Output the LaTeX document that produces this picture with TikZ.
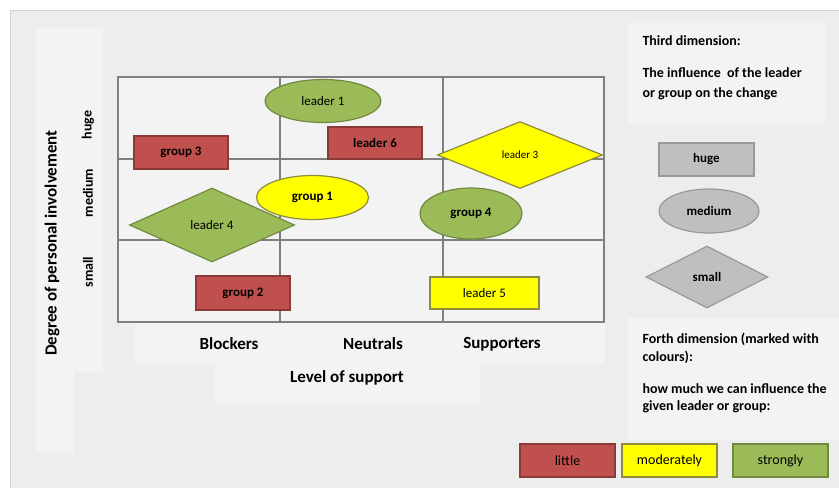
\documentclass[tikz,border=0pt]{standalone}
\usepackage{fontspec}
\setmainfont{Carlito}
\usetikzlibrary{shapes.geometric}
\definecolor{bgc}{HTML}{EDEDED}
\definecolor{panelc}{HTML}{F3F3F3}
\definecolor{gridc}{HTML}{7F7F7F}
\definecolor{redf}{HTML}{C0504D}
\definecolor{redd}{HTML}{8C3A38}
\definecolor{grnf}{HTML}{9BBB59}
\definecolor{grnd}{HTML}{71893F}
\definecolor{yelf}{HTML}{FFFF00}
\definecolor{yeld}{HTML}{8E8A3E}
\definecolor{gryf}{HTML}{BFBFBF}
\definecolor{gryd}{HTML}{999999}
\tikzset{
  fs/.style={font=\fontsize{#1}{#1}\selectfont},
  bigl/.style={font=\fontsize{17}{17}\selectfont\bfseries},
  midl/.style={font=\fontsize{14}{14}\selectfont\bfseries},
  boxr/.style={rectangle,inner sep=0pt,line width=1.2pt},
  ell/.style={ellipse,inner sep=0pt,line width=1.2pt},
  dia/.style={diamond,inner sep=0pt,line width=1.2pt},
  redc/.style={fill=redf,draw=redd},
  grnc/.style={fill=grnf,draw=grnd},
  yelc/.style={fill=yelf,draw=yeld},
  gryc/.style={fill=gryf,draw=gryd},
  lbl/.style={font=\fontsize{13}{13}\selectfont},
}
\begin{document}
\begin{tikzpicture}[x=1pt,y=-1pt]
\useasboundingbox (0,0) rectangle (839,488);
\fill[white] (0,0) rectangle (839,488);
\fill[bgc] (10,10) rectangle (839,488);
\draw[gray!35,line width=1pt] (10,488) -- (10,10) -- (839,10);
% panels
\fill[panelc] (36,28) rectangle (103,372);
\fill[panelc] (36,372) rectangle (74,453);
\fill[panelc] (135,322) rectangle (605,363);
\fill[panelc] (215,363) rectangle (480,403);
\fill[panelc] (628,23) rectangle (825,125);
\fill[panelc] (628,318) rectangle (839,440);
% grid
\fill[panelc] (118,77) rectangle (604,322);
\draw[gridc,line width=1.6pt] (118,77) rectangle (604,322);
\draw[gridc,line width=1.6pt] (280,77) -- (280,322);
\draw[gridc,line width=1.6pt] (443,77) -- (443,322);
\draw[gridc,line width=1.6pt] (118,159) -- (604,159);
\draw[gridc,line width=1.6pt] (118,240) -- (604,240);
% axis labels
\node[bigl,rotate=90] (yax) at (52,243) {Degree of personal involvement};
\node[midl,rotate=90] (yh) at (88,125) {huge};
\node[midl,rotate=90] (ym) at (88,193) {medium};
\node[midl,rotate=90] (ys) at (88,272) {small};
\node[bigl] (xb) at (229,344) {Blockers};
\node[bigl] (xn) at (373,344) {Neutrals};
\node[bigl] (xs) at (502,344) {Supporters};
\node[bigl] (xax) at (347,378) {Level of support};
% grid items
\node[ell,grnc,lbl,minimum width=116,minimum height=43] (l1) at (323,101) {leader 1};
\node[boxr,redc,lbl,minimum width=94,minimum height=32] (l6) at (375,143) {\bfseries leader 6};
\node[boxr,redc,lbl,minimum width=94,minimum height=33] (g3) at (181,152.5) {\bfseries group 3};
\node[ell,yelc,lbl,minimum width=112,minimum height=44] (g1) at (312.5,197.5) {\bfseries group 1};
\node[dia,grnc,lbl,aspect=2.2,minimum width=165,minimum height=74] (l4) at (212,225) {leader 4};
\node[dia,yelc,font=\fontsize{11}{11}\selectfont,aspect=2.5,minimum width=165,minimum height=67] (l3) at (520,155) {leader 3};
\node[ell,grnc,lbl,minimum width=102,minimum height=51] (g4) at (471,213.5) {\bfseries group 4};
\node[boxr,redc,lbl,minimum width=94,minimum height=34] (g2) at (243,293) {\bfseries group 2};
\node[boxr,yelc,lbl,minimum width=109,minimum height=32] (l5) at (484.5,293) {leader 5};
% third dimension
\node[midl,anchor=west] (t1) at (639,41) {Third dimension:};
\node[midl,anchor=west] (t2) at (639,73) {The influence\ \ of the leader};
\node[midl,anchor=west] (t3) at (639,94) {or group on the change};
\node[boxr,gryc,midl,font=\fontsize{13}{13}\selectfont\bfseries,minimum width=95,minimum height=33] (hh) at (706.5,159.5) {huge};
\node[ell,gryc,font=\fontsize{13}{13}\selectfont\bfseries,minimum width=100,minimum height=44] (mm) at (709,211) {medium};
\node[dia,gryc,font=\fontsize{13}{13}\selectfont\bfseries,aspect=2,minimum width=122,minimum height=62] (ss) at (707,277) {small};
% fourth dimension
\node[midl,anchor=west] (f1) at (639,339) {Forth dimension (marked with};
\node[midl,anchor=west] (f2) at (639,357) {colours):};
\node[midl,anchor=west] (f3) at (639,389) {how much we can influence the};
\node[midl,anchor=west] (f4) at (639,407) {given leader or group:};
\node[boxr,redc,font=\fontsize{14}{14}\selectfont,minimum width=95,minimum height=33] (lt) at (567.5,460.5) {little};
\node[boxr,yelc,font=\fontsize{14}{14}\selectfont,minimum width=95,minimum height=33] (md) at (669.5,460.5) {moderately};
\node[boxr,grnc,font=\fontsize{14}{14}\selectfont,minimum width=95,minimum height=33] (st) at (780.5,460.5) {strongly};
\end{tikzpicture}
\end{document}
